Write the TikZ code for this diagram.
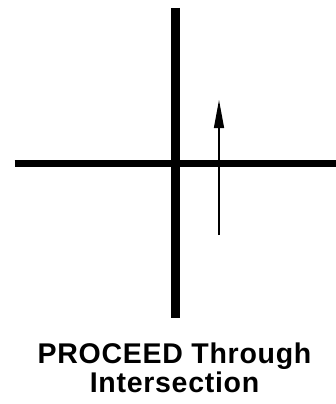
\documentclass[tikz,border=0pt]{standalone}
\usepackage{fontspec}
\setmainfont{Liberation Sans}
\usetikzlibrary{arrows.meta}

\begin{document}
\begin{tikzpicture}[x=1pt, y=-1pt,
    road/.style={line width=8pt},
    move/.style={line width=1.3pt, -{Triangle[length=28pt,width=10pt]}},
    caption/.style={font=\bfseries\fontsize{28.5}{29}\selectfont\addfontfeature{LetterSpace=2.5}, align=center}]
  \useasboundingbox (0,0) rectangle (336,404);
  % crossing roads
  \draw[road, line width=8.5pt] (175.5,8) -- (175.5,318);
  \draw[road, line width=7pt] (14.5,163) -- (336,163);
  % direction of travel
  \coordinate (tail) at (219,235);
  \coordinate (tip) at (219,100);
  \draw[move] (tail) -- (tip);
  \node[caption, anchor=base] (label) at (174.5,392.5) {PROCEED Through\\Intersection};
\end{tikzpicture}
\end{document}
